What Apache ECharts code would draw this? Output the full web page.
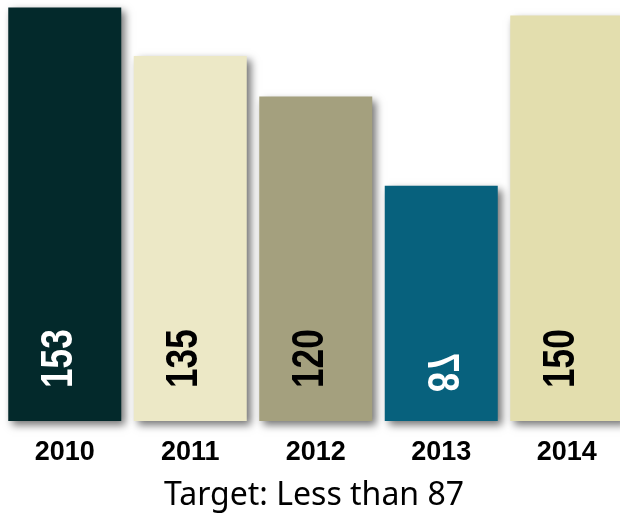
<!DOCTYPE html>
<html>
<head>
<meta charset="utf-8">
<script src="https://cdn.jsdelivr.net/npm/echarts@6/dist/echarts.min.js"></script>
<style>
  html, body { margin: 0; padding: 0; background: #fff; }
  #chart { width: 620px; height: 523px; }
</style>
</head>
<body>
<div id="chart"></div>
<script>
const years = ["2010", "2011", "2012", "2013", "2014"];
const values = [153, 135, 120, 87, 150];
const barColors = ["#03292B", "#ECE8C6", "#A4A07E", "#07617D", "#E3DEAE"];
const labelColors = ["#ffffff", "#000000", "#000000", "#ffffff", "#000000"];
const titleText = "Target: Less than 87";

const boldFont = '"Liberation Sans", Arial, sans-serif';

const chart = echarts.init(document.getElementById("chart"));

chart.setOption({
  animation: false,
  title: {
    text: titleText,
    left: 164,
    top: 480,
    padding: 0,
    textStyle: {
      fontFamily: '"Noto Sans", sans-serif',
      fontWeight: "normal",
      fontSize: 32,
      color: "#000",
    },
  },
  grid: {
    left: 2,
    top: 2,
    width: 627.5,
    bottom: 102,
    outerBoundsMode: "none",
    containLabel: false,
  },
  xAxis: {
    type: "category",
    data: years,
    axisLine: { show: false },
    axisTick: { show: false },
    axisLabel: {
      margin: 18,
      fontFamily: boldFont,
      fontWeight: "bold",
      fontSize: 27,
      color: "#000",
    },
  },
  yAxis: {
    type: "value",
    min: 0,
    max: 155,
    show: false,
    splitLine: { show: false },
  },
  series: [
    {
      type: "bar",
      barWidth: 113,
      data: values.map((v, i) => ({
        value: v,
        itemStyle: {
          color: barColors[i],
          shadowColor: "rgba(0,0,0,0.55)",
          shadowBlur: 8,
          shadowOffsetX: 4,
          shadowOffsetY: 4,
        },
      })),
    },
    {
      // value labels, vertical, at the foot of each bar
      type: "custom",
      z: 5,
      data: values.map((v, i) => [i, v]),
      encode: { x: 0, y: 1 },
      renderItem: (params, api) => {
        const i = params.dataIndex;
        const base = api.coord([api.value(0), 0]);
        // the 2013 label is drawn mirrored in the original
        const flip = years[i] === "2013";
        return {
          type: "text",
          x: base[0] + (flip ? -1 : -5),
          y: base[1] - (flip ? 29 : 33),
          rotation: Math.PI / 2,
          scaleX: 0.8,
          scaleY: flip ? -1 : 1,
          style: {
            text: String(api.value(1)),
            align: "left",
            verticalAlign: "middle",
            fill: labelColors[i],
            fontFamily: boldFont,
            fontWeight: "bold",
            fontSize: 44,
          },
        };
      },
    },
  ],
});

window.onresize = function () {
  chart.resize();
};
</script>
</body>
</html>
